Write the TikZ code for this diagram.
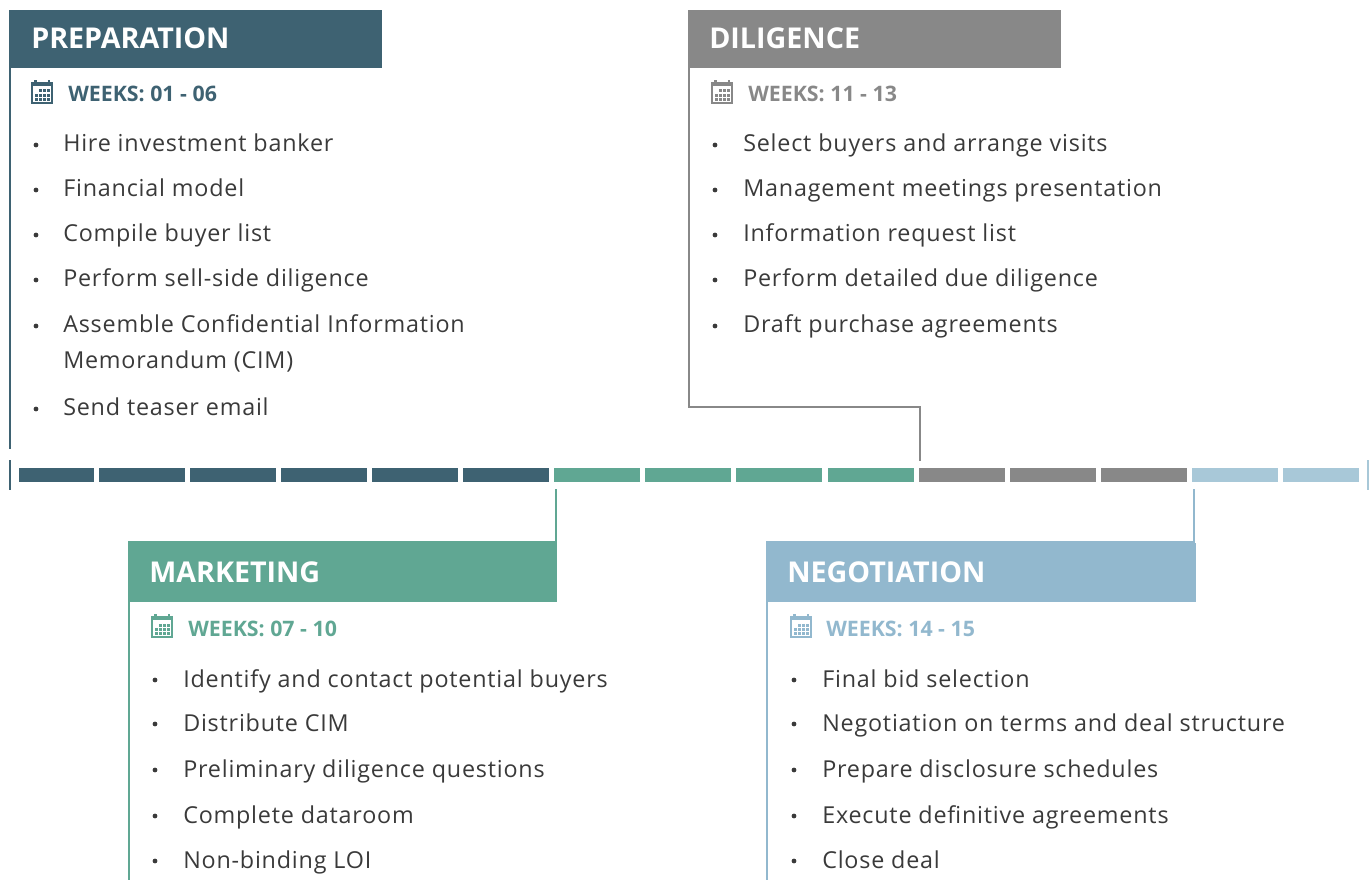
\documentclass[tikz,border=0pt]{standalone}
\usepackage{fontspec}
\setmainfont{Open Sans}
\newfontfamily\bodyfont{Open Sans}[LetterSpace=3.4]
\definecolor{cprep}{HTML}{3E6272}
\definecolor{cmark}{HTML}{60A793}
\definecolor{cdili}{HTML}{888888}
\definecolor{cnego}{HTML}{92B8CE}
\definecolor{cnegob}{HTML}{A8C8D8}
\definecolor{ctxt}{HTML}{3A3A3A}
\newcommand\calicn[3]{%
 \begin{scope}[shift={(#2,#3)}]
  \fill[#1] (3,0) rectangle (5.5,3);
  \fill[#1] (16.5,0) rectangle (19,3);
  \fill[#1] (0,2) rectangle (22,6);
  \draw[#1, line width=1.2pt] (0.8,2) -- (0.8,23.2) -- (21.2,23.2) -- (21.2,2);
  \foreach \c/\r in {1/0,2/0,3/0,0/1,1/1,2/1,3/1,0/2,1/2,2/2,3/2}
    \fill[#1] ({3.5+\c*4.2},{9.5+\r*4.3}) rectangle ++(3,3);
 \end{scope}}
\tikzset{
  hdr/.style={font=\bfseries\fontsize{21.5}{25}\selectfont, text=white, anchor=base west, inner sep=0pt},
  wk/.style={font=\bfseries\fontsize{16}{19}\selectfont, anchor=base west, inner sep=0pt},
  item/.style={font=\bodyfont\fontsize{17.5}{21}\selectfont, text=ctxt, anchor=base west, inner sep=0pt},
  bul/.style={circle, fill=ctxt, inner sep=0pt, minimum size=3.6pt},
  conn/.style={line width=1.5pt}
}
\begin{document}
\begin{tikzpicture}[x=0.75pt,y=-0.75pt]
\useasboundingbox (0,0) rectangle (1372,880);
% timeline segments
\fill[cprep] (19,468) rectangle (94,482);
\foreach \i in {1,...,14}{
  \pgfmathsetmacro\xs{99+91.07*(\i-1)}
  \pgfmathsetmacro\xe{\i==14 ? 1359 : \xs+86}
  \ifnum\i<6 \def\cc{cprep}\else\ifnum\i<10 \def\cc{cmark}\else\ifnum\i<13 \def\cc{cdili}\else\def\cc{cnegob}\fi\fi\fi
  \fill[\cc] (\xs,468) rectangle (\xe,482);
}
\coordinate (tlL) at (9.5,490);
\coordinate (tlR) at (1367.5,490);
\draw[cprep,conn] (tlL) -- ++(0,-30);
\draw[cnegob,conn] (tlR) -- ++(0,-30);
\coordinate (markT) at (556,489);
\coordinate (diliT) at (920,461);
\coordinate (negoT) at (1194,489);
% connectors
\draw[cprep,conn] (9.5,68) -- (9.5,449);
\draw[cdili,conn] (688.5,68) -- (688.5,407) -- (920,407) -- (diliT);
\draw[cmark,conn] (128.5,880) -- (128.5,542) -- (556,542) -- (markT);
\draw[cnego,conn] (766.5,880) -- (766.5,542) -- (1194,542) -- (negoT);
% headers
\fill[cprep] (8.5,10) rectangle (382,68);
\fill[cdili] (687.5,10) rectangle (1061,68);
\fill[cmark] (127.5,543) rectangle (557,602);
\fill[cnego] (765.5,543) rectangle (1196,602);
\node[hdr] (prepH) at (31,49) {PREPARATION};
\node[hdr] (diliH) at (709,49) {DILIGENCE};
\node[hdr] (markH) at (149,583) {MARKETING};
\node[hdr] (negoH) at (787,583) {NEGOTIATION};
% weeks
\calicn{cprep}{31}{80}
\calicn{cdili}{711}{80}
\calicn{cmark}{151}{614}
\calicn{cnego}{790}{614}
\node[wk,text=cprep] (prepW) at (68,102) {WEEKS: 01 - 06};
\node[wk,text=cdili] (diliW) at (748,102) {WEEKS: 11 - 13};
\node[wk,text=cmark] (markW) at (188,636) {WEEKS: 07 - 10};
\node[wk,text=cnego] (negoW) at (826,636) {WEEKS: 14 - 15};
% items
\foreach \yy/\t [count=\i] in {152/Hire investment banker,197/Financial model,242/Compile buyer list,287/Perform sell-side diligence,333/Assemble Confidential Information,416/Send teaser email}{
  \node[bul] (pb\i) at (36,\yy-7) {};
  \node[item] (pi\i) at (63,\yy) {\t};
}
\node[item] (pi5b) at (63,369) {Memorandum (CIM)};
\foreach \yy/\t [count=\i] in {152/Select buyers and arrange visits,197/Management meetings presentation,242/Information request list,287/Perform detailed due diligence,333/Draft purchase agreements}{
  \node[bul] (db\i) at (715,\yy-7) {};
  \node[item] (di\i) at (743,\yy) {\t};
}
\foreach \yy/\t [count=\i] in {687/Identify and contact potential buyers,731/Distribute CIM,777/Preliminary diligence questions,823/Complete dataroom,868/Non-binding LOI}{
  \node[bul] (mb\i) at (155,\yy-7) {};
  \node[item] (mi\i) at (183,\yy) {\t};
}
\foreach \yy/\t [count=\i] in {687/Final bid selection,731/Negotiation on terms and deal structure,777/Prepare disclosure schedules,823/Execute definitive agreements,868/Close deal}{
  \node[bul] (nb\i) at (794,\yy-7) {};
  \node[item] (ni\i) at (822,\yy) {\t};
}
\end{tikzpicture}
\end{document}
